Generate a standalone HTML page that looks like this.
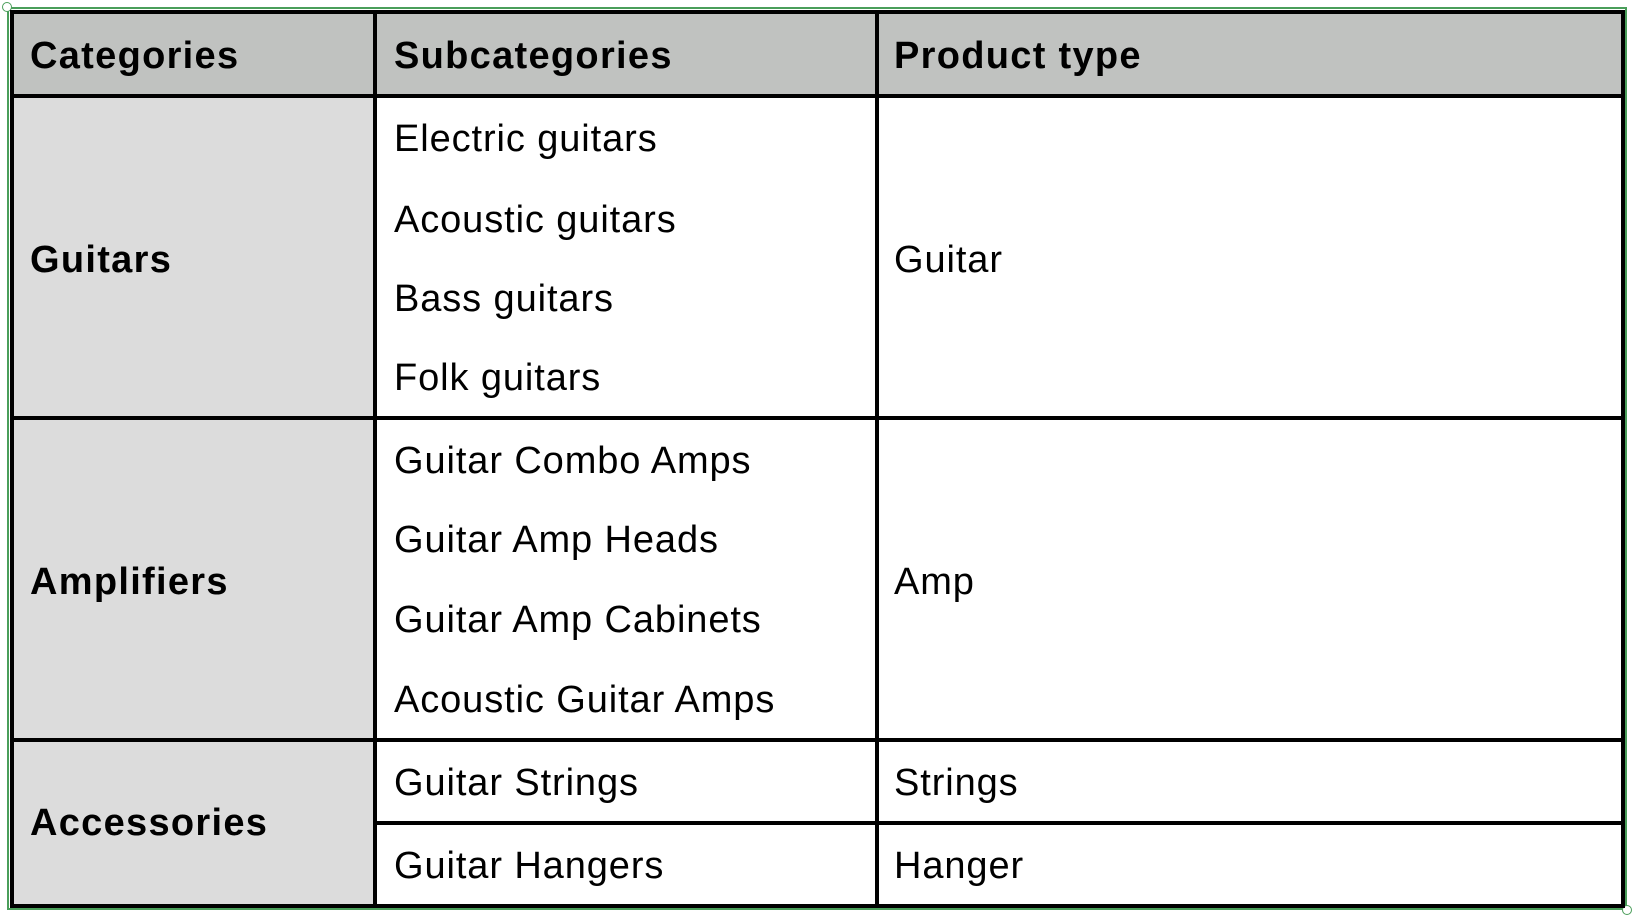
<!DOCTYPE html>
<html><head><meta charset="utf-8"><style>
body{margin:0;width:1632px;height:916px;background:#fff;position:relative;overflow:hidden;font-family:"Liberation Sans",Arial,sans-serif;}
.r{position:absolute;}
.t{position:absolute;font-size:38px;line-height:40px;white-space:nowrap;color:#000;letter-spacing:0.9px;}
.b{font-weight:bold;letter-spacing:1.3px;}
</style></head><body>
<div class="r" style="left:7px;top:7px;width:1620px;height:903px;border:2px solid #4a9e5a;box-sizing:border-box;"></div>
<div class="r" style="left:2px;top:2px;width:8px;height:8px;border:1.5px solid #4a9e5a;border-radius:50%;background:#fff"></div>
<div class="r" style="left:1622px;top:905px;width:8px;height:8px;border:1.5px solid #4a9e5a;border-radius:50%;background:#fff"></div>
<div class="r" style="left:10px;top:10px;width:1614px;height:87px;background:#c0c2c0"></div>
<div class="r" style="left:10px;top:97px;width:365px;height:811px;background:#dcdcdc"></div>
<div class="r" style="left:10px;top:10px;width:1615px;height:898px;border:4px solid #000;box-sizing:border-box;"></div>
<div class="r" style="left:373px;top:10px;width:4px;height:898px;background:#000"></div>
<div class="r" style="left:875px;top:10px;width:4px;height:898px;background:#000"></div>
<div class="r" style="left:10px;top:94px;width:1615px;height:4px;background:#000"></div>
<div class="r" style="left:10px;top:416px;width:1615px;height:4px;background:#000"></div>
<div class="r" style="left:10px;top:738px;width:1615px;height:4px;background:#000"></div>
<div class="r" style="left:373px;top:821px;width:1252px;height:4px;background:#000"></div>
<div class="t b" style="left:30px;top:36px">Categories</div>
<div class="t b" style="left:394px;top:36px">Subcategories</div>
<div class="t b" style="left:894px;top:36px">Product type</div>
<div class="t b" style="left:30px;top:240px">Guitars</div>
<div class="t b" style="left:30px;top:562px">Amplifiers</div>
<div class="t b" style="left:30px;top:803px">Accessories</div>
<div class="t" style="left:394px;top:119px">Electric guitars</div>
<div class="t" style="left:394px;top:200px">Acoustic guitars</div>
<div class="t" style="left:394px;top:279px">Bass guitars</div>
<div class="t" style="left:394px;top:358px">Folk guitars</div>
<div class="t" style="left:394px;top:441px">Guitar Combo Amps</div>
<div class="t" style="left:394px;top:520px">Guitar Amp Heads</div>
<div class="t" style="left:394px;top:600px">Guitar Amp Cabinets</div>
<div class="t" style="left:394px;top:680px">Acoustic Guitar Amps</div>
<div class="t" style="left:394px;top:763px">Guitar Strings</div>
<div class="t" style="left:394px;top:846px">Guitar Hangers</div>
<div class="t" style="left:894px;top:240px">Guitar</div>
<div class="t" style="left:894px;top:562px">Amp</div>
<div class="t" style="left:894px;top:763px">Strings</div>
<div class="t" style="left:894px;top:846px">Hanger</div>
</body></html>
